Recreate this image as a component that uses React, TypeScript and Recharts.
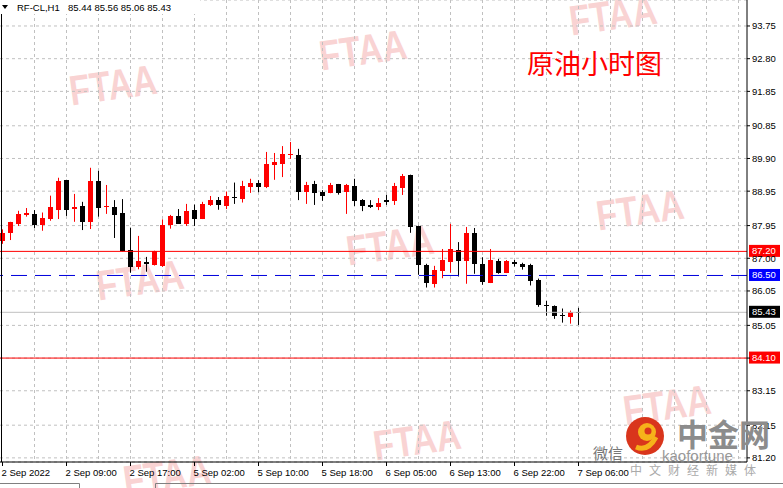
import {
  ComposedChart,
  Bar,
  XAxis,
  YAxis,
  CartesianGrid,
  ReferenceLine,
} from "recharts";

const FONT = "'Liberation Sans', Arial, sans-serif";

// hourly OHLC
const opens = [
  87.51, 87.74, 88.0, 88.27, 88.29, 87.98, 88.14, 88.41, 89.26, 88.44,
  88.52, 88.06, 89.25, 88.49, 88.49, 88.32, 87.24, 86.76, 86.89, 86.81,
  86.78, 87.97, 88.23, 88.01, 88.4, 88.15, 88.55, 88.69, 88.52, 88.78,
  88.72, 89.07, 89.2, 89.07, 89.71, 89.74, 90.01, 90.0, 88.93, 89.16,
  88.93, 88.91, 89.16, 88.93, 89.1, 88.69, 88.55, 88.49, 88.69, 88.67,
  89.05, 89.42, 87.94, 86.81, 86.25, 86.64, 86.9, 87.24, 86.93, 87.74,
  86.84, 86.29, 86.92, 86.58, 86.89, 86.84, 86.81, 86.37, 85.64, 85.6,
  85.36, 85.28, 85.44,
];
const highs = [
  87.84, 88.06, 88.38, 88.46, 88.4, 88.33, 88.82, 89.34, 89.28, 88.87,
  88.64, 89.63, 89.54, 89.13, 88.69, 88.72, 87.89, 87.65, 87.04, 87.22,
  88.13, 88.26, 88.43, 88.58, 88.56, 88.64, 88.81, 88.78, 88.94, 89.2,
  89.25, 89.31, 89.27, 90.09, 90.06, 90.26, 90.38, 90.18, 89.22, 89.25,
  88.98, 89.19, 89.16, 89.16, 89.31, 88.72, 88.69, 88.75, 88.84, 89.19,
  89.45, 89.43, 87.95, 86.84, 86.78, 87.27, 88.0, 87.47, 87.91, 87.88,
  87.03, 87.27, 86.98, 86.95, 86.95, 86.87, 86.84, 86.41, 85.76, 85.63,
  85.54, 85.48, 85.56,
];
const lows = [
  87.42, 87.53, 87.94, 88.21, 87.88, 87.8, 88.09, 88.14, 88.23, 88.06,
  87.82, 87.85, 88.21, 88.29, 87.59, 87.2, 86.58, 86.68, 86.61, 86.79,
  86.75, 87.86, 88.0, 87.94, 87.94, 88.14, 88.52, 88.41, 88.43, 88.58,
  88.62, 88.9, 88.92, 89.04, 89.28, 89.36, 89.89, 88.69, 88.58, 88.55,
  88.67, 88.89, 88.85, 88.29, 88.52, 88.37, 88.46, 88.4, 88.55, 88.55,
  88.84, 87.74, 86.52, 86.15, 86.15, 86.42, 86.58, 86.47, 86.26, 86.55,
  86.23, 86.28, 86.55, 86.57, 86.76, 86.67, 86.21, 85.59, 85.33, 85.24,
  85.13, 85.1, 85.06,
];
const closes = [
  87.73, 88.04, 88.29, 88.33, 87.98, 88.17, 88.49, 89.25, 88.41, 88.49,
  88.06, 89.25, 88.47, 88.52, 88.27, 87.21, 86.76, 86.92, 86.82, 87.21,
  87.97, 88.23, 88.01, 88.38, 88.15, 88.58, 88.69, 88.55, 88.81, 88.76,
  89.1, 89.2, 89.06, 89.74, 89.8, 90.03, 90.03, 88.94, 89.13, 88.91,
  88.81, 89.13, 88.91, 89.13, 88.67, 88.52, 88.49, 88.61, 88.64, 89.1,
  89.39, 87.92, 86.81, 86.27, 86.66, 86.95, 87.27, 86.93, 87.74, 86.82,
  86.32, 86.95, 86.56, 86.92, 86.82, 86.76, 86.35, 85.65, 85.61, 85.33,
  85.33, 85.45, 85.43,
];

const xTickIdx = [0, 8, 16, 24, 32, 40, 48, 56, 64, 72];
const xTickLabels = [
  "2 Sep 2022",
  "2 Sep 09:00",
  "2 Sep 17:00",
  "5 Sep 02:00",
  "5 Sep 10:00",
  "5 Sep 18:00",
  "6 Sep 05:00",
  "6 Sep 13:00",
  "6 Sep 22:00",
  "7 Sep 06:00",
];
const yTicks = [
  93.75, 92.8, 91.85, 90.85, 89.9, 88.95, 87.95, 87.0, 86.05, 85.05, 84.1,
  83.15, 82.15, 81.2,
];

// horizontal levels drawn on the chart
const levels = [
  { price: 87.2, color: "#ff0000", tag: "#ff0000", dash: undefined },
  { price: 86.5, color: "#0000dd", tag: "#0000ff", dash: "16 8" },
  { price: 85.43, color: "#c0c0c0", tag: "#000000", dash: undefined },
  { price: 84.1, color: "#ff0000", tag: "#ff0000", dash: undefined },
];

const X_MIN = -0.3125;
const X_MAX = 93.0625;
const Y_MIN = 81.08;
const Y_MAX = 94.505;

const gridIdx: number[] = [];
for (let i = 4; i < 93; i += 4) gridIdx.push(i);

const candles = opens.map((o, i) => ({
  i,
  o,
  h: highs[i],
  l: lows[i],
  c: closes[i],
}));

const watermarks = [
  [613, 15],
  [363, 50],
  [113, 85],
  [640, 210],
  [390, 245],
  [140, 280],
  [667, 405],
  [417, 440],
  [167, 475],
];

function Candle(props: any) {
  const { x, y, width, height, payload } = props;
  const { o, h, l, c } = payload;
  const k = height / (h - l);
  const cx = Math.floor(x + width / 2);
  const top = Math.round(y + (h - Math.max(o, c)) * k);
  const bot = Math.round(y + (h - Math.min(o, c)) * k);
  const color = c >= o ? "#ff0000" : "#000000";
  return (
    <g>
      <rect x={cx} y={y} width={1} height={Math.max(1, height)} fill={color} />
      <rect
        x={cx - 2}
        y={top}
        width={5}
        height={Math.max(1, bot - top)}
        fill={color}
      />
    </g>
  );
}

function XTick(props: any) {
  const idx = xTickIdx.indexOf(props.payload.value);
  return (
    <text
      x={props.x - 1}
      y={props.y + 8}
      fontSize={9.5}
      fontFamily={FONT}
      fill="#000"
    >
      {xTickLabels[idx]}
    </text>
  );
}

function YTick(props: any) {
  const v = Number(props.payload.value);
  // the price tag of a level sits on top of this label
  if (levels.some((lv) => Math.abs(lv.price - v) < 0.005)) return <g />;
  return (
    <text
      x={props.x}
      y={props.y + 3.5}
      fontSize={9.5}
      fontFamily={FONT}
      fill="#000"
    >
      {v.toFixed(2)}
    </text>
  );
}

const priceTag = (text: string, bg: string) => (p: any) => {
  const vb = p.viewBox || {};
  const right = (vb.x || 0) + (vb.width || 0);
  const y = vb.y || 0;
  return (
    <g>
      <rect x={right + 2} y={y - 6.5} width={31} height={12} fill={bg} />
      <text
        x={right + 5}
        y={y + 3}
        fontSize={9.5}
        fontFamily={FONT}
        fill="#fff"
      >
        {text}
      </text>
    </g>
  );
};

export default function App() {
  const gridX = ({ xAxis, offset }: any) =>
    gridIdx.map((i) =>
      xAxis && typeof xAxis.scale === "function"
        ? xAxis.scale(i)
        : offset.left + ((i - X_MIN) / (X_MAX - X_MIN)) * offset.width
    );

  return (
    <div
      style={{
        position: "absolute",
        left: 0,
        top: 0,
        width: 783,
        height: 488,
        background: "#fff",
        overflow: "hidden",
      }}
    >
      <svg
        width={783}
        height={488}
        style={{ position: "absolute", left: 0, top: 0 }}
      >
        {watermarks.map(([wx, wy], n) => (
          <text
            key={n}
            x={wx}
            y={wy}
            transform={`rotate(-8 ${wx} ${wy})`}
            textAnchor="middle"
            dominantBaseline="central"
            fontSize={42}
            fontWeight="bold"
            fontFamily={FONT}
            textLength={88}
            lengthAdjust="spacingAndGlyphs"
            fill="#f9d3d3"
          >
            FTAA
          </text>
        ))}
      </svg>

      <div style={{ position: "absolute", left: 0, top: 0 }}>
        <ComposedChart
          width={783}
          height={488}
          data={candles}
          margin={{ top: 0, right: 0, bottom: 0, left: 0 }}
        >
          <CartesianGrid
            stroke="#c0c0c0"
            strokeDasharray="3 3"
            verticalCoordinatesGenerator={gridX}
          />
          <XAxis
            dataKey="i"
            type="number"
            domain={[X_MIN, X_MAX]}
            ticks={xTickIdx}
            interval={0}
            height={26}
            tickSize={4}
            tickMargin={2}
            axisLine={{ stroke: "#000" }}
            tickLine={{ stroke: "#000" }}
            tick={<XTick />}
          />
          <YAxis
            orientation="right"
            width={36}
            domain={[Y_MIN, Y_MAX]}
            ticks={yTicks}
            interval={0}
            tickSize={3}
            tickMargin={2}
            axisLine={{ stroke: "#000" }}
            tickLine={{ stroke: "#000" }}
            tick={<YTick />}
          />
          {levels.map((lv) => (
            <ReferenceLine
              key={lv.price}
              y={lv.price}
              stroke={lv.color}
              strokeDasharray={lv.dash}
              label={priceTag(lv.price.toFixed(2), lv.tag)}
            />
          ))}
          <Bar
            dataKey={(d: any) => [d.l, d.h]}
            barSize={8}
            shape={<Candle />}
            isAnimationActive={false}
          />
        </ComposedChart>
      </div>

      <svg
        width={783}
        height={488}
        style={{ position: "absolute", left: 0, top: 0, pointerEvents: "none" }}
      >
        {/* left frame + title */}
        <rect x={1} y={0} width={1} height={462} fill="#000" />
        <rect x={0} y={0} width={200} height={14} fill="#fff" />
        <polygon points="2,5 8,5 5,9" fill="#000" />
        <text x={17} y={11} fontSize={9.5} fontFamily={FONT} fill="#000">
          RF-CL,H1
        </text>
        <text x={68} y={11} fontSize={9.5} fontFamily={FONT} fill="#000">
          85.44 85.56 85.06 85.43
        </text>

        <text
          x={527}
          y={74}
          fontSize={27}
          fontFamily="'Noto Sans CJK SC', sans-serif"
          fill="#ff0000"
        >
          原油小时图
        </text>

        {/* bottom-right logo */}
        <text
          x={593}
          y={459}
          fontSize={15}
          fontFamily="'Noto Sans CJK SC', sans-serif"
          fill="#777"
        >
          微信
        </text>
        <text
          x={677}
          y={446}
          fontSize={31}
          fontWeight="bold"
          fontFamily="'Noto Sans CJK SC', sans-serif"
          fill="#8c8c8c"
        >
          中金网
        </text>
        <text
          x={662}
          y={461}
          fontSize={15}
          fontFamily={FONT}
          fill="#777"
          opacity={0.75}
        >
          kaofortune
        </text>
        <text
          x={630}
          y={475}
          fontSize={12}
          letterSpacing={7}
          fontFamily="'Noto Sans CJK SC', sans-serif"
          fill="#aaa"
        >
          中文财经新媒体
        </text>
        <circle cx={645} cy={436} r={19} fill="#d9351c" />
        <circle cx={647} cy={432} r={9} fill="#f6b21a" />
        <circle cx={648} cy={431} r={3.5} fill="#d9351c" />
        <path
          d="M 636 447 Q 648 452 656 437"
          stroke="#f6b21a"
          strokeWidth={5}
          fill="none"
        />

        {/* tab strip */}
        <path
          d="M 0 483.5 H 79.5 V 488 M 155.5 488 V 483.5 H 783"
          stroke="#808080"
          fill="none"
        />
      </svg>
    </div>
  );
}
